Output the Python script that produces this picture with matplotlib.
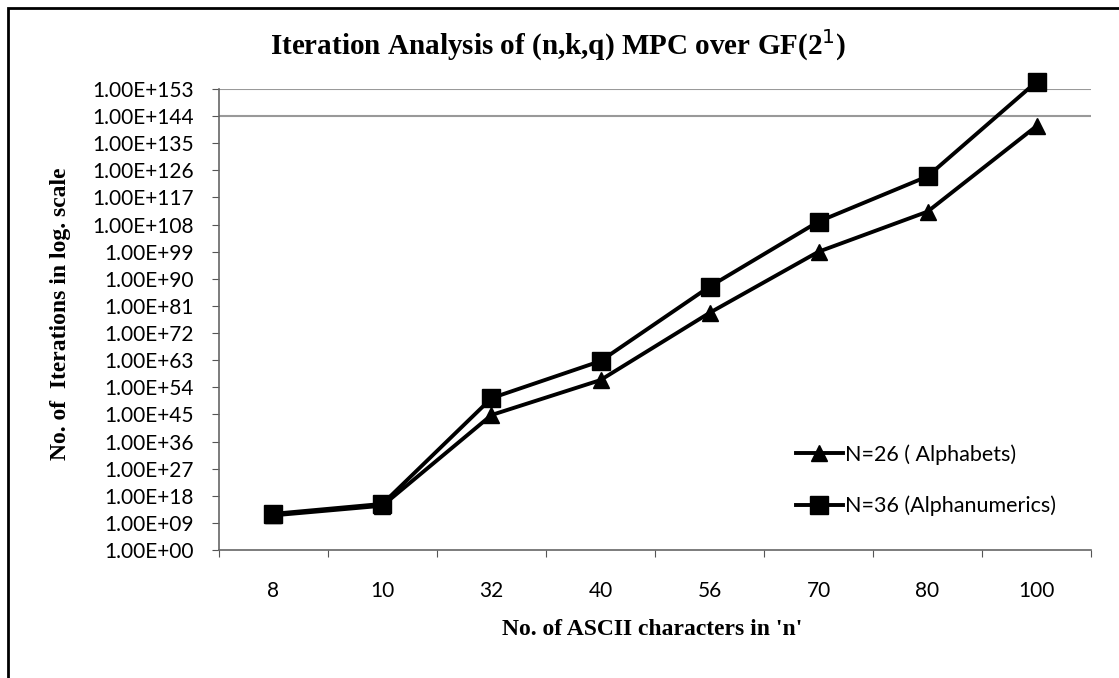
import matplotlib.pyplot as plt
import numpy as np
from matplotlib.patches import Rectangle
from matplotlib.ticker import FixedLocator, FuncFormatter

# data (exponents of 10)
categories = ['8', '10', '32', '40', '56', '70', '80', '100']
alpha_exp = [11.5, 14.7, 44.8, 56.4, 78.7, 99.0, 112.3, 140.7]
alnum_exp = [12.0, 15.3, 50.4, 62.7, 87.4, 109.0, 124.0, 155.4]
ytick_exp = list(range(0, 154, 9))

alpha = [10.0 ** e for e in alpha_exp]
alnum = [10.0 ** e for e in alnum_exp]

fig = plt.figure(figsize=(11.19, 6.78), dpi=100)
ax = fig.add_axes([0.1957, 0.1888, 0.975 - 0.1957, 0.8687 - 0.1888])

x = np.arange(len(categories))
ax.plot(x, alpha, color='black', lw=2.8, marker='^', ms=12, clip_on=False,
        label='N=26 ( Alphabets)', zorder=3)
ax.plot(x, alnum, color='black', lw=2.8, marker='s', ms=13.5, clip_on=False,
        label='N=36 (Alphanumerics)', zorder=3)

ax.set_yscale('log')
ax.set_ylim(1, 1e153)
ax.set_xlim(-0.5, len(categories) - 0.5)

# y ticks every 9 decades
ax.yaxis.set_major_locator(FixedLocator([10.0 ** e for e in ytick_exp]))
ax.yaxis.set_minor_locator(FixedLocator([]))
ax.yaxis.set_major_formatter(FuncFormatter(lambda v, p: '1.00E+%02d' % round(np.log10(v))))

# grid only on the two top lines
for e in [144, 153]:
    ax.axhline(10.0 ** e, color='#999999', lw=1.5, zorder=1)

# x ticks between categories, labels in the middle
ax.set_xticks(np.arange(-0.5, len(categories), 1.0))
ax.set_xticklabels([])
ax.set_xticks(x, minor=True)
ax.set_xticklabels(categories, minor=True)
ax.tick_params(axis='x', which='minor', length=0, pad=22, labelsize=15)
ax.tick_params(axis='x', which='major', length=5, color='#555555', direction='out')
ax.tick_params(axis='y', length=5, color='#555555', labelsize=15, pad=13)
for lab in ax.get_xticklabels(minor=True) + ax.get_yticklabels():
    lab.set_family('Lato')

for s in ['top', 'right']:
    ax.spines[s].set_visible(False)
for s in ['left', 'bottom']:
    ax.spines[s].set_color('#666666')
    ax.spines[s].set_linewidth(1.2)

fig.text(0.499, 0.933, 'Iteration Analysis of (n,k,q) MPC over GF(2$^{1}$)',
         ha='center', va='center', fontsize=21, fontweight='bold',
         family='Liberation Serif')
fig.text(0.054, 0.537, 'No. of  Iterations in log. scale', rotation=90,
         ha='center', va='center', fontsize=17, fontweight='bold',
         family='Liberation Serif')
fig.text(0.583, 0.071, "No. of ASCII characters in 'n'", ha='center', va='center',
         fontsize=17, fontweight='bold', family='Liberation Serif')

leg = ax.legend(loc='upper left', bbox_to_anchor=(0.639, 0.272), frameon=False,
                handlelength=2.2, handletextpad=0.1, labelspacing=1.45,
                prop={'family': 'Lato', 'size': 15.5})

# outer frame
fig.patches.append(Rectangle((8 / 1119, -0.1), 1.2, 1 - 8 / 678 + 0.1,
                             transform=fig.transFigure, fill=False,
                             edgecolor='black', lw=2))

fig.savefig('out.png', dpi=100)
